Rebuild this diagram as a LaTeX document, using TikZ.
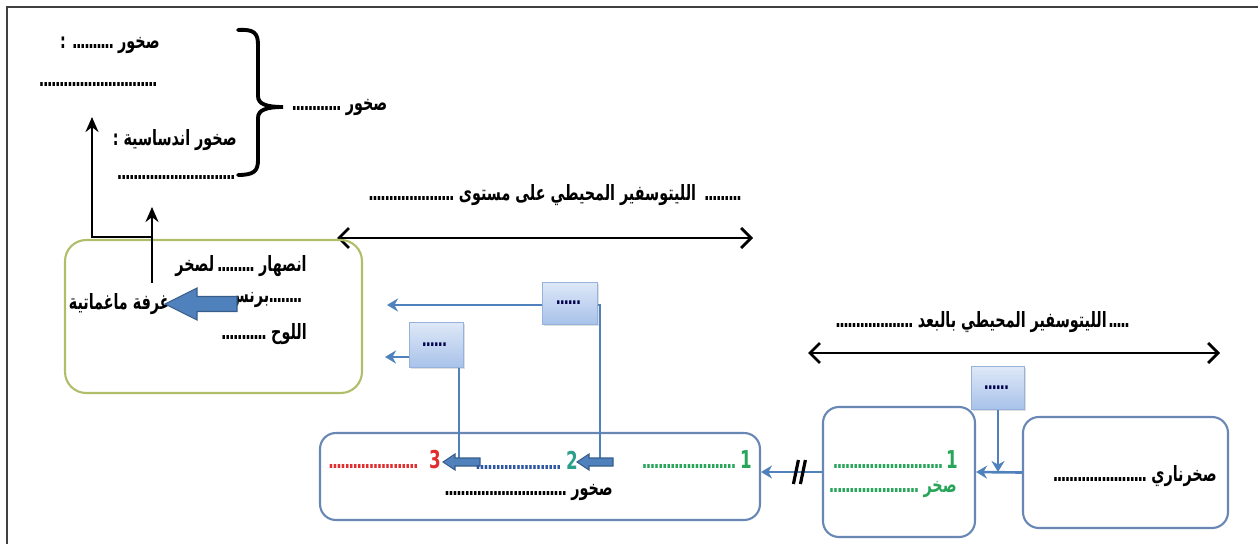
\documentclass[tikz,border=0pt]{standalone}
\usepackage{fontspec}
\usepackage{xcolor}
\usepackage{tikz}
\usetikzlibrary{arrows.meta}
\usetikzlibrary{calc, shadows}
\TeXXeTstate=1
\newfontfamily\arabicfont[Script=Arabic, FakeStretch=0.68]{DejaVu Sans}
\definecolor{lineblue}{RGB}{79,129,189}
\definecolor{darkblue}{RGB}{56,93,138}
\definecolor{boxblue}{RGB}{105,135,180}
\definecolor{rimgreen}{RGB}{175,190,105}
\definecolor{lightblue}{RGB}{222,232,247}
\definecolor{midblue}{RGB}{168,194,234}
\definecolor{rimblue}{RGB}{150,178,220}
\definecolor{green1}{RGB}{40,165,90}
\definecolor{teal2}{RGB}{45,160,140}
\definecolor{red3}{RGB}{225,45,45}
\definecolor{dots2}{RGB}{45,85,160}
\tikzstyle{txt} = [inner sep=0pt, font=\arabicfont\bfseries\fontsize{12}{13}\selectfont]
\tikzstyle{panel} = [draw=boxblue, line width=1.2pt, rounded corners=9pt]
\tikzstyle{tag} = [draw=rimblue, top color=lightblue, bottom color=midblue,
	drop shadow={opacity=0.25, shadow xshift=1pt, shadow yshift=-1pt},
	font=\arabicfont\bfseries\fontsize{11}{11}\selectfont, text=black!70!blue]
\tikzstyle{link} = [draw=lineblue, line width=1.5pt]
\tikzstyle{arrow} = [-{Stealth[length=2.2mm, width=2.6mm]}, link]
\tikzstyle{blackarrow} = [-{Stealth[length=3mm, width=2.6mm]}, line width=1.3pt]
\tikzstyle{span} = [{Straight Barb[length=2mm, width=4mm]}-{Straight Barb[length=2mm, width=4mm]}, line width=1.6pt]
\tikzstyle{fat} = [fill=lineblue, draw=darkblue, line width=0.6pt]
% row of dots to fill in
\newcommand{\dts}[1]{\hbox to #1{\leaders\hbox to 2.3pt{\hss.\hss}\hfill}}
\newcommand{\digitfont}{\fontsize{14}{15}\selectfont}
% block arrow pointing left: tail x, tip x, y, shaft half, head half, head length
\newcommand{\fatarrow}[6]{\draw[fat] (#1,#3-#4) -- (#2+#6,#3-#4) -- (#2+#6,#3-#5) -- (#2,#3)
	-- (#2+#6,#3+#5) -- (#2+#6,#3+#4) -- (#1,#3+#4) -- cycle}

\begin{document}
\begin{tikzpicture}[x=0.02cm, y=-0.02cm]
	\useasboundingbox (0,0) rectangle (1258,544);
	\draw[line width=1.1pt, black!75] (7,560) -- (7,7) -- (1270,7);
	
	\node (rocka) [txt, anchor=east] at (160,45) {\beginR صخور \dts{0.85cm} :\endR};
	\node (rockadots) [txt, anchor=east] at (160,85) {\dts{2.4cm}};
	\node (rockb) [txt, anchor=east] at (237,140) {\beginR صخور اندساسية :\endR};
	\node (rockbdots) [txt, anchor=east] at (238,178) {\dts{2.4cm}};
	\node (rocks) [txt, anchor=west] at (288,107) {\beginR صخور \dts{1.05cm}\endR};
	\draw[line width=2.2pt, line cap=round] (238,30) .. controls (254,29) and (258,33) .. (258,45) -- (258,96)
		.. controls (258,104) and (266,107) .. (283,107) .. controls (266,107) and (258,110) .. (258,118)
		-- (258,160) .. controls (258,171) and (254,175) .. (238,175);
	
	\node (litho1) [txt] at (555,195) {\beginR\dts{0.8cm} الليتوسفير المحيطي على مستوى \dts{1.7cm}\endR};
	\coordinate (ridgeL) at (337,238);
	\coordinate (ridgeR) at (753,238);
	\draw[span] (ridgeL) -- (ridgeR);
	
	\node (arc) [draw=rimgreen, line width=1.2pt, rounded corners=12pt, minimum width=5.94cm, minimum height=3.06cm] at (213.5,316.5) {};
	\node (melt) [txt, anchor=east] at (307,266) {\beginR انصهار \dts{0.8cm}لصخر\endR};
	\node (mantle) [txt, anchor=east] at (302,300) {\beginR\dts{0.65cm}برنس\endR};
	\node (plate) [txt, anchor=east] at (307,334) {\beginR اللوح \dts{0.9cm}\endR};
	\node (chamber) [txt, anchor=east] at (170,304) {\beginR غرفة ماغماتية\endR};
	\fatarrow{237}{165}{304}{7.5}{16}{32};
	
	\coordinate (rise) at (152,283);
	\coordinate (fork) at (152,237);
	\coordinate (intip) at (152,207);
	\coordinate (outtip) at (92,117);
	\draw[line width=1.3pt] (rise) -- (fork);
	\draw[blackarrow] (fork) -- (intip);
	\draw[blackarrow] (fork) -| (outtip);
	
	\node (litho2) [txt] at (981,322) {\beginR\dts{0.45cm}الليتوسفير المحيطي بالبعد \dts{1.6cm}\endR};
	\coordinate (farL) at (808,353);
	\coordinate (farR) at (1220,353);
	\draw[span] (farL) -- (farR);
	
	\node (crust) [panel, minimum width=8.8cm, minimum height=1.74cm] at (540,476.5) {};
	\node (mid) [panel, minimum width=3.04cm, minimum height=2.6cm] at (899,472) {};
	\node (igneous) [panel, minimum width=4.1cm, minimum height=2.22cm] at (1125.5,472.5) {};
	
	\coordinate (up2) at (600,462);
	\coordinate (out2) at (387,305);
	\coordinate (up3) at (459,462);
	\coordinate (out3) at (385,357);
	\draw[arrow] (up2) |- (out2);
	\draw[arrow] (up3) |- (out3);
	\node (tagA) [tag, minimum width=1.1cm, minimum height=0.84cm] at (570,303) {\dts{0.55cm}};
	\node (tagB) [tag, minimum width=1.08cm, minimum height=0.9cm] at (436,345) {\dts{0.55cm}};
	\fatarrow{613}{577}{462}{4}{8}{12};
	\fatarrow{480}{443}{462}{4}{8}{12};
	
	\node (s3) [txt, anchor=east, text=red3] at (441,460) {\dts{1.8cm}\hspace{0.2cm}{\digitfont 3}};
	\node (s2) [txt, anchor=east] at (578,460) {\color{dots2}\dts{1.7cm}\hspace{0.1cm}\color{teal2}{\digitfont 2}};
	\node (s1) [txt, anchor=east, text=green1] at (752,460) {\dts{1.9cm}\hspace{0.05cm}{\digitfont 1}};
	\node (crustname) [txt, anchor=east] at (613,492) {\beginR صخور \dts{2.45cm}\endR};
	
	\node (m1) [txt, anchor=east, text=green1] at (958,460) {\dts{2.25cm}{\digitfont 1}};
	\node (m2) [txt, anchor=east, text=green1] at (957,489) {\beginR صخر \dts{1.8cm}\endR};
	\node (ign) [txt, anchor=east] at (1217,476) {\beginR صخرناري \dts{1.9cm}\endR};
	
	\node (tagC) [tag, minimum width=1.06cm, minimum height=0.86cm] at (998,388) {\dts{0.55cm}};
	\draw[arrow] (igneous.west) -- (mid.east);
	\draw[arrow] (tagC) -- (tagC |- mid.east);
	\draw[arrow] (mid.west) -- (mid.west -| crust.east) coordinate[pos=0.37] (cut);
	\draw[line width=1.8pt] ($(cut)+(-6,12)$) -- ($(cut)+(-1,-12)$) ($(cut)+(1,12)$) -- ($(cut)+(6,-12)$);
\end{tikzpicture}
\end{document}
